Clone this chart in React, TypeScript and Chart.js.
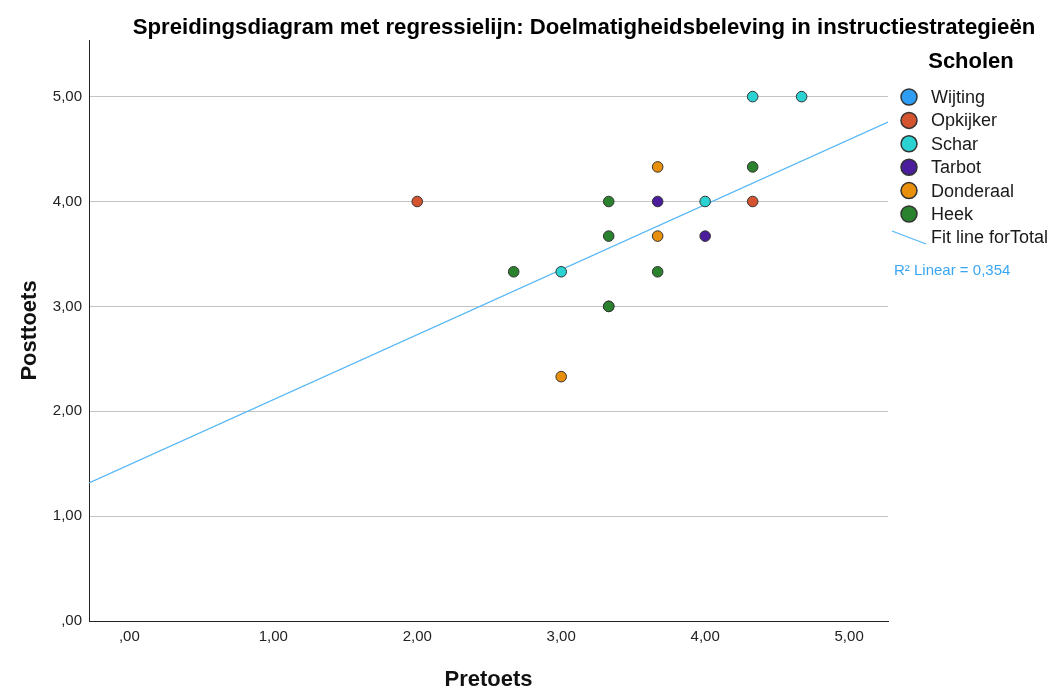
import React, { useEffect, useRef } from 'react';
import { Chart, registerables } from 'chart.js';

Chart.register(...registerables);

const FONT = '"Liberation Sans", Arial, Helvetica, sans-serif';

const TITLE = 'Spreidingsdiagram met regressielijn: Doelmatigheidsbeleving in instructiestrategieën';
const X_TITLE = 'Pretoets';
const Y_TITLE = 'Posttoets';
const LEGEND_TITLE = 'Scholen';
const FIT_LABEL = 'Fit line forTotal';
const R2_LABEL = 'R² Linear = 0,354';

const schools = ['Wijting', 'Opkijker', 'Schar', 'Tarbot', 'Donderaal', 'Heek'];
const schoolColors = ['#2e9ef4', '#d3542f', '#2ad2d2', '#4b1c9b', '#e8900c', '#2a822f'];

const wijtingX: number[] = [];
const wijtingY: number[] = [];
const opkijkerX = [2.0, 4.33];
const opkijkerY = [4.0, 4.0];
const scharX = [4.33, 4.67, 4.0, 3.0];
const scharY = [5.0, 5.0, 4.0, 3.33];
const tarbotX = [3.67, 4.0];
const tarbotY = [4.0, 3.67];
const donderaalX = [3.67, 3.67, 3.0];
const donderaalY = [4.33, 3.67, 2.33];
const heekX = [4.33, 3.33, 3.33, 2.67, 3.67, 3.33, 3.33];
const heekY = [4.33, 4.0, 3.67, 3.33, 3.33, 3.0, 3.0];

const seriesX = [wijtingX, opkijkerX, scharX, tarbotX, donderaalX, heekX];
const seriesY = [wijtingY, opkijkerY, scharY, tarbotY, donderaalY, heekY];

// fit line: Posttoets = intercept + slope * Pretoets
const fitIntercept = 1.49;
const fitSlope = 0.62;

const xMin = -0.28;
const xMax = 5.27;
const yMin = 0;
const yMax = 5.54;
const xTickValues = [0, 1, 2, 3, 4, 5];
const yTickValues = [0, 1, 2, 3, 4, 5];

const fmt = (v: number) => (v === 0 ? ',00' : v.toFixed(2).replace('.', ','));

const overlayPlugin = {
  id: 'overlay',
  afterDraw(chart: any) {
    const ctx = chart.ctx as CanvasRenderingContext2D;
    ctx.save();
    ctx.fillStyle = '#000';
    ctx.textBaseline = 'middle';
    ctx.textAlign = 'center';
    ctx.font = `bold 22.2px ${FONT}`;
    ctx.fillText(TITLE, 584, 28);

    ctx.font = `bold 22px ${FONT}`;
    ctx.fillText(LEGEND_TITLE, 971, 62);

    ctx.textAlign = 'left';
    ctx.font = `18px ${FONT}`;
    schools.forEach((name, i) => {
      const y = 97 + i * 23.4;
      ctx.beginPath();
      ctx.arc(909, y, 8, 0, Math.PI * 2);
      ctx.fillStyle = schoolColors[i];
      ctx.fill();
      ctx.lineWidth = 1.5;
      ctx.strokeStyle = '#333';
      ctx.stroke();
      ctx.fillStyle = '#1a1a1a';
      ctx.fillText(name, 931, y + 1);
    });
    const fy = 97 + 6 * 23.4;
    ctx.beginPath();
    ctx.moveTo(892, 231);
    ctx.lineTo(926, 244);
    ctx.strokeStyle = '#55b6f5';
    ctx.lineWidth = 1.3;
    ctx.stroke();
    ctx.fillStyle = '#1a1a1a';
    ctx.fillText(FIT_LABEL, 931, fy + 1);

    ctx.font = `15px ${FONT}`;
    ctx.fillStyle = '#3aa6f2';
    ctx.fillText(R2_LABEL, 894, 271);
    ctx.restore();
  },
};

export default function App() {
  const ref = useRef<HTMLCanvasElement | null>(null);

  useEffect(() => {
    if (!ref.current) return;
    const pointSets = schools.map((name, i) => ({
      type: 'scatter' as const,
      label: name,
      data: seriesX[i].map((x, j) => ({ x, y: seriesY[i][j] })),
      backgroundColor: schoolColors[i],
      borderColor: '#333',
      borderWidth: 1,
      pointRadius: 5.3,
      order: 1,
    }));
    const fitSet = {
      type: 'line' as const,
      label: FIT_LABEL,
      data: [
        { x: xMin, y: fitIntercept + fitSlope * xMin },
        { x: xMax, y: fitIntercept + fitSlope * xMax },
      ],
      borderColor: '#55b6f5',
      borderWidth: 1.3,
      pointRadius: 0,
      fill: false,
      order: 5,
    };
    const chart = new Chart(ref.current, {
      type: 'scatter',
      data: { datasets: [...pointSets, fitSet] as any },
      options: {
        animation: false,
        responsive: false,
        events: [],
        layout: { padding: { left: 0, right: 169, top: 40, bottom: 0 } },
        plugins: {
          legend: { display: false },
          title: { display: false },
          tooltip: { enabled: false },
        },
        scales: {
          x: {
            type: 'linear',
            min: xMin,
            max: xMax,
            afterBuildTicks: (s: any) => {
              s.ticks = xTickValues.map((v) => ({ value: v }));
            },
            afterFit: (s: any) => {
              s.height = 70;
            },
            grid: { display: false, drawTicks: false },
            border: { display: true, color: '#222', width: 1 },
            ticks: {
              padding: 7,
              color: '#222',
              font: { family: FONT, size: 15 },
              callback: (v: any) => fmt(Number(v)),
              maxRotation: 0,
            },
            title: {
              display: true,
              text: X_TITLE,
              color: '#111',
              font: { family: FONT, size: 22, weight: 'bold', lineHeight: 1 },
              padding: { top: 0, bottom: 0 },
            },
          },
          y: {
            type: 'linear',
            min: yMin,
            max: yMax,
            afterBuildTicks: (s: any) => {
              s.ticks = yTickValues.map((v) => ({ value: v }));
            },
            afterFit: (s: any) => {
              s.width = 89;
            },
            grid: {
              drawTicks: false,
              color: (c: any) => (c.tick && c.tick.value === 0 ? 'rgba(0,0,0,0)' : '#c4c4c4'),
              lineWidth: 1,
            },
            border: { display: true, color: '#222', width: 1 },
            ticks: {
              padding: 7,
              color: '#222',
              font: { family: FONT, size: 15 },
              callback: (v: any) => fmt(Number(v)),
            },
            title: {
              display: true,
              text: Y_TITLE,
              color: '#111',
              font: { family: FONT, size: 22, weight: 'bold', lineHeight: 1 },
              padding: { top: 19, bottom: 0 },
            },
          },
        },
      } as any,
      plugins: [overlayPlugin],
    });
    return () => chart.destroy();
  }, []);

  return (
    <div style={{ position: 'fixed', left: 0, top: 0, width: 1057, height: 691, background: '#fff' }}>
      <canvas ref={ref} width={1057} height={691} style={{ display: 'block' }} />
    </div>
  );
}
